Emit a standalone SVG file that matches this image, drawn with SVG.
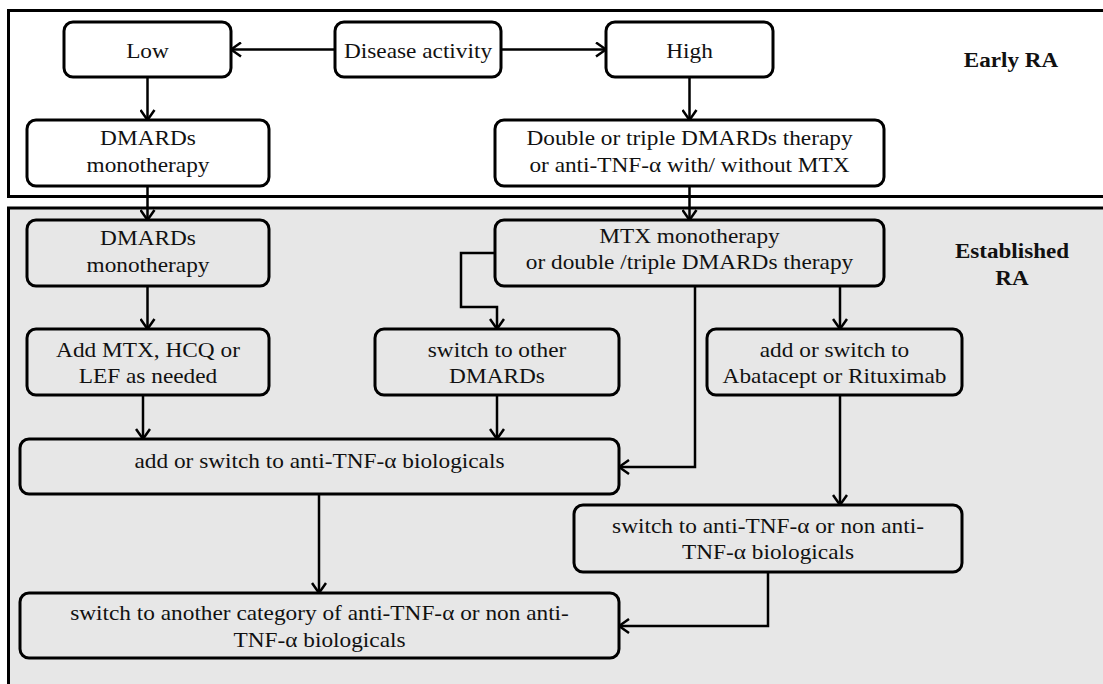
<svg xmlns="http://www.w3.org/2000/svg" width="1103" height="684" viewBox="0 0 1103 684">
<style>
.box{fill:#ffffff;stroke:#000;stroke-width:3}
.gbox{fill:#e7e7e7;stroke:#000;stroke-width:3}
.t{font-family:"Liberation Serif","Times New Roman",serif;font-size:21px;fill:#111;text-anchor:middle}
.b{font-weight:bold}
.c{fill:none;stroke:#000;stroke-width:2.5}
</style>
<defs>
<marker id="ah" viewBox="0 0 12 16" refX="11" refY="8" markerWidth="12" markerHeight="16" markerUnits="userSpaceOnUse" orient="auto">
<path d="M1,1 L11,8 L1,15" fill="none" stroke="#000" stroke-width="2.5"/>
</marker>
</defs>
<rect width="1103" height="684" fill="#ffffff"/>
<g id="panel-early">
<rect x="8.5" y="10.5" width="1110" height="186" fill="#ffffff" stroke="#000" stroke-width="3"/>
<text class="t b" transform="translate(1011,67) scale(1.1,1)">Early RA</text>
</g>
<g id="panel-established">
<rect x="8.5" y="208" width="1110" height="500" fill="#e7e7e7" stroke="#000" stroke-width="3"/>
<text class="t b" transform="translate(1012,258) scale(1.1,1)">Established</text>
<text class="t b" transform="translate(1012,285) scale(1.1,1)">RA</text>
</g>
<g id="connectors">
<path class="c" d="M335,49.5 H231" marker-end="url(#ah)"/>
<path class="c" d="M501,49.5 H606" marker-end="url(#ah)"/>
<path class="c" d="M147.5,77 V120" marker-end="url(#ah)"/>
<path class="c" d="M689.5,77 V120" marker-end="url(#ah)"/>
<path class="c" d="M147.5,186 V220" marker-end="url(#ah)"/>
<path class="c" d="M689.5,186 V220" marker-end="url(#ah)"/>
<path class="c" d="M147.5,286 V329" marker-end="url(#ah)"/>
<path class="c" d="M495,253 H461 V307 H497 V329" marker-end="url(#ah)"/>
<path class="c" d="M840,286 V329" marker-end="url(#ah)"/>
<path class="c" d="M695,286 V467 H619" marker-end="url(#ah)"/>
<path class="c" d="M143,395 V439" marker-end="url(#ah)"/>
<path class="c" d="M497,395 V439" marker-end="url(#ah)"/>
<path class="c" d="M840,395 V505" marker-end="url(#ah)"/>
<path class="c" d="M319,494 V593" marker-end="url(#ah)"/>
<path class="c" d="M768,572 V626 H619" marker-end="url(#ah)"/>
</g>
<g id="node-low">
<rect class="box" x="64" y="22" width="167" height="55" rx="9"/>
<text class="t" transform="translate(147.5,58) scale(1.11,1)">Low</text>
</g>
<g id="node-disease">
<rect class="box" x="335" y="22" width="166" height="55" rx="9"/>
<text class="t" transform="translate(418,58) scale(1.11,1)">Disease activity</text>
</g>
<g id="node-high">
<rect class="box" x="606" y="22" width="167" height="55" rx="9"/>
<text class="t" transform="translate(689.5,58) scale(1.11,1)">High</text>
</g>
<g id="node-early-dmards">
<rect class="box" x="27" y="120" width="242" height="66" rx="9"/>
<text class="t" transform="translate(148,145) scale(1.11,1)">DMARDs</text>
<text class="t" transform="translate(148,172) scale(1.11,1)">monotherapy</text>
</g>
<g id="node-double">
<rect class="box" x="495" y="120" width="389" height="66" rx="9"/>
<text class="t" transform="translate(689.5,145) scale(1.11,1)">Double or triple DMARDs therapy</text>
<text class="t" transform="translate(689.5,172) scale(1.11,1)">or anti-TNF-α with/ without MTX</text>
</g>
<g id="node-est-dmards">
<rect class="gbox" x="27" y="220" width="242" height="66" rx="9"/>
<text class="t" transform="translate(148,245) scale(1.11,1)">DMARDs</text>
<text class="t" transform="translate(148,272) scale(1.11,1)">monotherapy</text>
</g>
<g id="node-mtx">
<rect class="gbox" x="495" y="220" width="389" height="66" rx="9"/>
<text class="t" transform="translate(689.5,243) scale(1.11,1)">MTX monotherapy</text>
<text class="t" transform="translate(689.5,269) scale(1.11,1)">or double /triple DMARDs therapy</text>
</g>
<g id="node-addmtx">
<rect class="gbox" x="27" y="329" width="242" height="66" rx="9"/>
<text class="t" transform="translate(148,357) scale(1.11,1)">Add MTX, HCQ or</text>
<text class="t" transform="translate(148,383) scale(1.11,1)">LEF as needed</text>
</g>
<g id="node-switch-other">
<rect class="gbox" x="375" y="329" width="244" height="66" rx="9"/>
<text class="t" transform="translate(497,357) scale(1.11,1)">switch to other</text>
<text class="t" transform="translate(497,383) scale(1.11,1)">DMARDs</text>
</g>
<g id="node-abatacept">
<rect class="gbox" x="707" y="329" width="255" height="66" rx="9"/>
<text class="t" transform="translate(834.5,357) scale(1.11,1)">add or switch to</text>
<text class="t" transform="translate(834.5,383) scale(1.11,1)">Abatacept or Rituximab</text>
</g>
<g id="node-anti-tnf">
<rect class="gbox" x="20" y="439" width="599" height="55" rx="9"/>
<text class="t" transform="translate(319.5,468) scale(1.11,1)">add or switch to anti-TNF-α biologicals</text>
</g>
<g id="node-switch-nonanti">
<rect class="gbox" x="574" y="505" width="388" height="67" rx="9"/>
<text class="t" transform="translate(768,533) scale(1.11,1)">switch to anti-TNF-α or non anti-</text>
<text class="t" transform="translate(768,559) scale(1.11,1)">TNF-α biologicals</text>
</g>
<g id="node-switch-another">
<rect class="gbox" x="20" y="593" width="599" height="65" rx="9"/>
<text class="t" transform="translate(319.5,620) scale(1.11,1)">switch to another category of anti-TNF-α or non anti-</text>
<text class="t" transform="translate(319.5,647) scale(1.11,1)">TNF-α biologicals</text>
</g>
</svg>
